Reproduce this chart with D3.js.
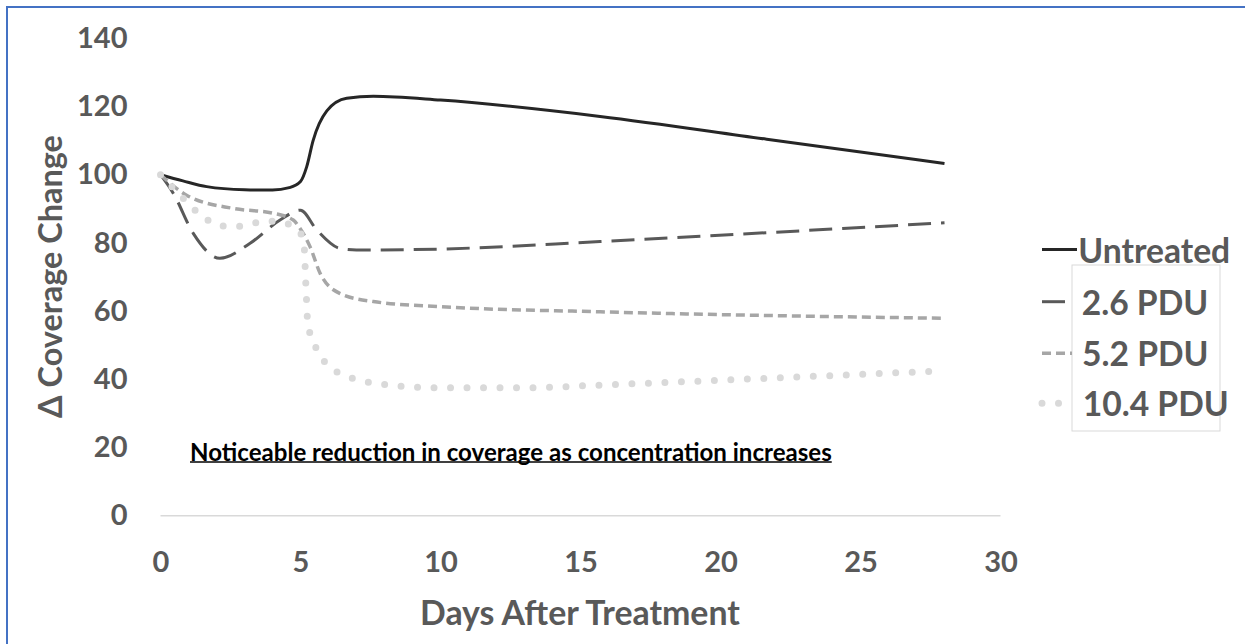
<!DOCTYPE html>
<html>
<head>
<meta charset="utf-8">
<script src="https://cdn.jsdelivr.net/npm/d3@7"></script>
<style>
  html, body { margin: 0; padding: 0; background: #fff; }
  svg { display: block; }
</style>
</head>
<body>
<svg id="chart" width="1245" height="644"></svg>
<script>
// ---------------- DATA ----------------
const seriesNames = ["Untreated", "2.6 PDU", "5.2 PDU", "10.4 PDU"];

const untreatedDays   = [0, 0.8, 1.65, 3, 4, 4.6, 5, 5.22, 5.45, 5.94, 6.65, 7.6, 10, 15.7, 21.65, 28];
const untreatedValues = [100, 98.2, 96.5, 95.6, 95.5, 96.2, 98, 102.3, 110, 118.7, 122.4, 123, 121.9, 117.1, 110.4, 103.3];

const pdu26Days   = [0, 0.46, 1.17, 2.12, 3.2, 4.27, 5.0, 5.58, 6.4, 7.0, 10, 15.7, 21.65, 28];
const pdu26Values = [100, 94.5, 82.8, 75.5, 79.9, 86.7, 89.6, 83.8, 78.4, 77.9, 78.2, 80.4, 83.0, 85.9];

const pdu52Days   = [0, 0.93, 2.6, 4.03, 4.74, 4.98, 5.34, 5.7, 6.4, 7.6, 10, 15.7, 28];
const pdu52Values = [100, 94, 90.1, 88.7, 86.7, 84.3, 78.9, 71.1, 65.2, 62.8, 61.3, 59.8, 57.9];

const pdu104Days   = [0, 0.76, 1.59, 2.13, 2.72, 3.26, 3.79, 4.39, 4.92, 5.12, 5.2, 5.26, 5.43, 5.67, 6.03, 6.53, 7.07, 8.2, 10, 13, 15.7, 21.65, 28];
const pdu104Values = [100, 93.5, 87.2, 85.0, 84.8, 85.7, 86.4, 85.9, 83.8, 79.9, 66, 56.4, 51.7, 47.4, 43.7, 41.3, 39.8, 38.3, 37.5, 37.5, 38.3, 40.3, 42.5];

const xTickValues = [0, 5, 10, 15, 20, 25, 30];
const yTickValues = [0, 20, 40, 60, 80, 100, 120, 140];

const xAxisTitle = "Days After Treatment";
const yAxisTitle = "\u0394 Coverage Change";
const annotationText = "Noticeable reduction in coverage as concentration increases";

// ---------------- STYLES ----------------
const FONT = "Lato, 'Open Sans', sans-serif";
const TEXT_COLOR = "#595959";
const styles = [
  { color: "#262626", width: 3,   dash: null,    cap: "butt"  },
  { color: "#595959", width: 3,   dash: "23 10", cap: "butt"  },
  { color: "#a6a6a6", width: 3.5, dash: "9 5",   cap: "butt"  },
  { color: "#d9d9d9", width: 7,   dash: "0 16.5", cap: "round" }
];

const series = [
  { days: untreatedDays, values: untreatedValues },
  { days: pdu26Days,     values: pdu26Values },
  { days: pdu52Days,     values: pdu52Values },
  { days: pdu104Days,    values: pdu104Values }
];

// ---------------- CHART ----------------
const svg = d3.select("#chart");

// outer frame (blue)
svg.append("rect")
  .attr("x", 7).attr("y", 7).attr("width", 1400).attr("height", 800)
  .attr("fill", "none").attr("stroke", "#4472c4").attr("stroke-width", 2);

const x = d3.scaleLinear().domain([0, 30]).range([160.5, 1000.5]);
const y = d3.scaleLinear().domain([0, 140]).range([515.7, 38.3]);

// zero gridline
svg.append("line")
  .attr("x1", x(0)).attr("x2", x(30))
  .attr("y1", y(0)).attr("y2", y(0))
  .attr("stroke", "#d9d9d9").attr("stroke-width", 1.5);

// y axis
const yAxis = svg.append("g")
  .attr("transform", `translate(${x(0)},0)`)
  .call(d3.axisLeft(y).tickValues(yTickValues).tickSize(0).tickPadding(33));
yAxis.select(".domain").remove();
yAxis.selectAll("text")
  .attr("font-family", FONT).attr("font-weight", "bold")
  .attr("font-size", 29).attr("fill", TEXT_COLOR);

// x axis
const xAxis = svg.append("g")
  .attr("transform", `translate(0,${y(0)})`)
  .call(d3.axisBottom(x).tickValues(xTickValues).tickSize(0).tickPadding(36));
xAxis.select(".domain").remove();
xAxis.selectAll("text")
  .attr("font-family", FONT).attr("font-weight", "bold")
  .attr("font-size", 29).attr("fill", TEXT_COLOR);

function fitWidth(sel, target) {
  const fs = parseFloat(sel.attr("font-size"));
  const w = sel.node().getComputedTextLength();
  sel.attr("font-size", fs * target / w);
}

// axis titles
const xt = svg.append("text")
  .attr("x", 580).attr("y", 612)
  .attr("text-anchor", "middle").attr("dominant-baseline", "central")
  .attr("font-family", FONT).attr("font-weight", "bold")
  .attr("font-size", 30).attr("fill", TEXT_COLOR)
  .text(xAxisTitle);
fitWidth(xt, 320);

const yt = svg.append("text")
  .attr("transform", "translate(49,276.5) rotate(-90)")
  .attr("text-anchor", "middle").attr("dominant-baseline", "central")
  .attr("font-family", FONT).attr("font-weight", "bold")
  .attr("font-size", 30).attr("fill", TEXT_COLOR)
  .text(yAxisTitle);
fitWidth(yt, 283);

// lines
const line = d3.line()
  .x(d => x(d[0]))
  .y(d => y(d[1]))
  .curve(d3.curveMonotoneX);

series.forEach((s, i) => {
  const pts = s.days.map((d, j) => [d, s.values[j]]);
  const st = styles[i];
  svg.append("path")
    .datum(pts)
    .attr("d", line)
    .attr("fill", "none")
    .attr("stroke", st.color)
    .attr("stroke-width", st.width)
    .attr("stroke-linecap", st.cap)
    .attr("stroke-linejoin", "round")
    .attr("stroke-dasharray", st.dash);
});

// annotation
const ann = svg.append("text")
  .attr("x", 190).attr("y", 451.7)
  .attr("dominant-baseline", "central")
  .attr("font-family", FONT).attr("font-weight", "bold")
  .attr("font-size", 21).attr("fill", "#000")
  .text(annotationText);
fitWidth(ann, 642);
const annW = ann.node().getComputedTextLength();
svg.append("line")
  .attr("x1", 190).attr("x2", 190 + annW)
  .attr("y1", 462).attr("y2", 462)
  .attr("stroke", "#000").attr("stroke-width", 1.5);

// legend
svg.append("rect")
  .attr("x", 1072).attr("y", 265).attr("width", 148).attr("height", 166)
  .attr("fill", "none").attr("stroke", "#d9d9d9").attr("stroke-width", 1);

const legendY = [249.5, 301.7, 353.3, 403.3];
const legendTextX = [1078.3, 1081.7, 1082, 1082.7];
const legendLineEnd = [1077, 1072, 1072, 1072];
const legendTexts = [];
seriesNames.forEach((name, i) => {
  const st = styles[i];
  svg.append("line")
    .attr("x1", 1042).attr("x2", legendLineEnd[i])
    .attr("y1", legendY[i]).attr("y2", legendY[i])
    .attr("stroke", st.color).attr("stroke-width", st.width)
    .attr("stroke-linecap", st.cap)
    .attr("stroke-dasharray", st.dash);
  const t = svg.append("text")
    .attr("x", legendTextX[i]).attr("y", legendY[i])
    .attr("dominant-baseline", "central")
    .attr("font-family", FONT).attr("font-weight", "bold")
    .attr("font-size", 28).attr("fill", TEXT_COLOR)
    .text(name);
  legendTexts.push(t);
});
// size legend font from the "Untreated" entry width
const fs0 = parseFloat(legendTexts[0].attr("font-size"));
const w0 = legendTexts[0].node().getComputedTextLength();
const legendFS = fs0 * 152 / w0;
legendTexts.forEach(t => t.attr("font-size", legendFS));
</script>
</body>
</html>
